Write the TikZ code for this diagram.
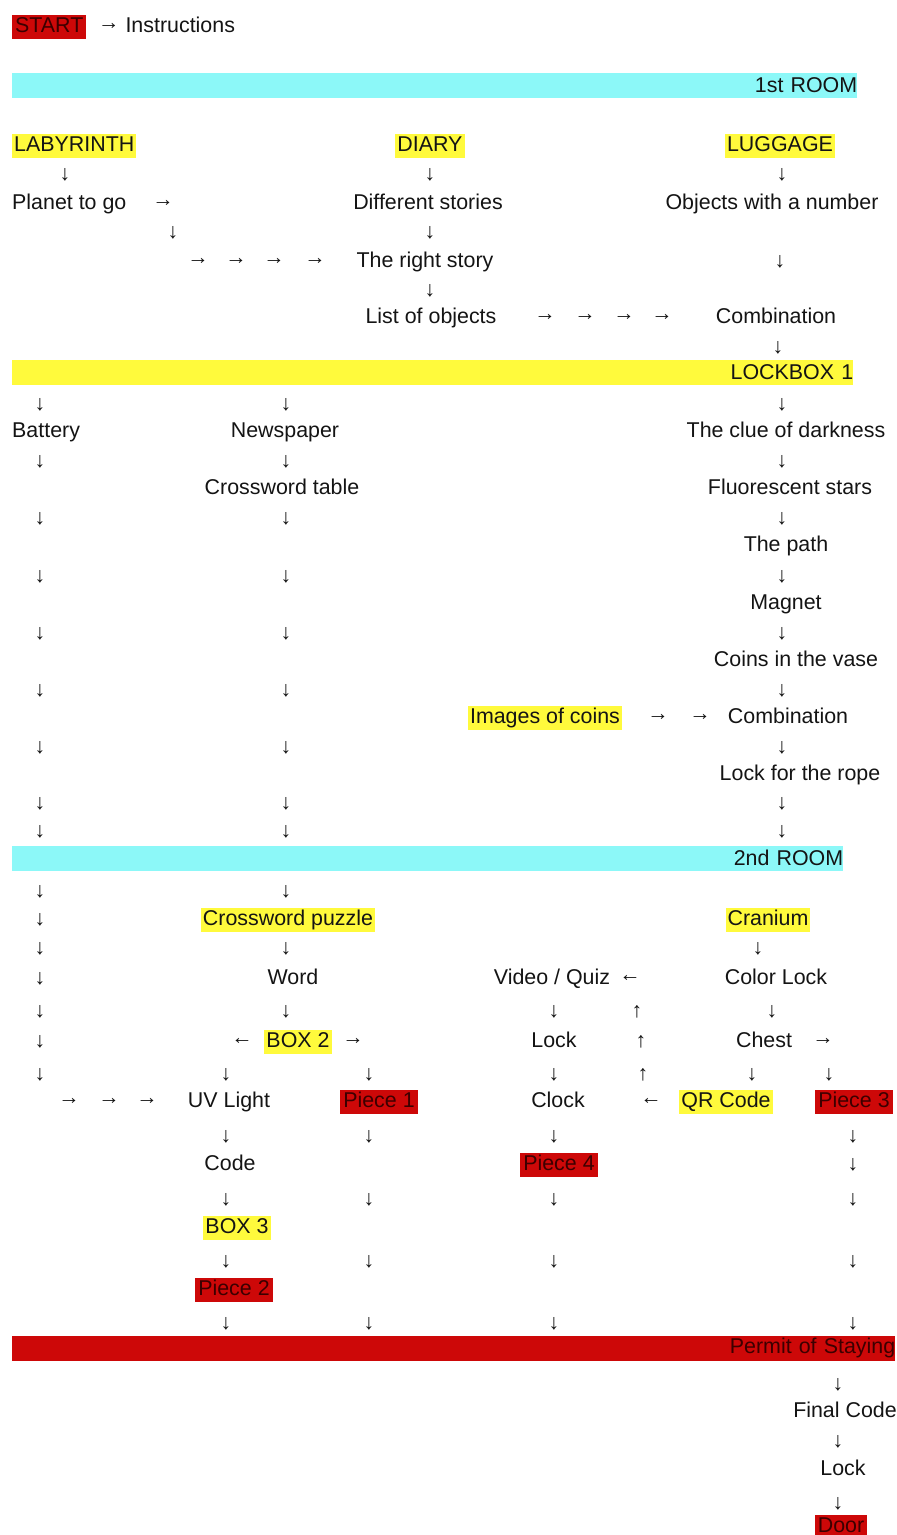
\documentclass[tikz,border=0pt]{standalone}
\usepackage{fontspec}
\setmainfont{Liberation Sans}
\definecolor{roomcyan}{RGB}{140,248,248}
\definecolor{hlyellow}{RGB}{255,250,60}
\definecolor{piecered}{RGB}{205,8,8}
\definecolor{piecetext}{RGB}{60,0,0}
\definecolor{ink}{RGB}{20,20,20}
\begin{document}
\begin{tikzpicture}[x=1pt, y=-1pt,
    font=\fontsize{21.4}{25}\selectfont,
    txt/.style={inner xsep=0pt, inner ysep=1.5pt, text height=16pt, text depth=5pt, text=ink, yshift=-2pt},
    hl/.style={txt, fill=hlyellow, inner xsep=2pt},
    piece/.style={txt, fill=piecered, inner xsep=3pt, text=piecetext},
    bar/.style={anchor=west, inner sep=0pt, minimum height=25pt, align=right, text=ink},
    arr/.style={txt, text=ink},
    harr/.style={arr, yshift=3pt}
]
    \useasboundingbox[fill=white] (0,0) rectangle (897,1535);
    \clip (0,0) rectangle (897,1535);

    % Start line
    \node[piece, anchor=west] (start) at (12,25) {START};
    \node[txt, anchor=west] (instr) at (98,25) {\raisebox{3pt}{→} Instructions};

    % 1st room
    \node[bar, fill=roomcyan, text width=845pt] (room1) at (12,85) {1st ROOM};
    \node[hl, anchor=west] (laby) at (12,144) {LABYRINTH};
    \node[hl] (diary) at (430,144) {DIARY};
    \node[hl] (lugg) at (780,144) {LUGGAGE};
    \node[arr] (laby-d) at (65,173) {↓};
    \node[arr] (diary-d) at (430,173) {↓};
    \node[arr] (lugg-d) at (782,173) {↓};
    \node[txt, anchor=west] (planet) at (12,202) {Planet to go};
    \node[harr] (planet-r) at (163,202) {→};
    \node[txt] (stories) at (428,202) {Different stories};
    \node[txt] (objnum) at (772,202) {Objects with a number};
    \node[arr] (planet-d) at (173,231) {↓};
    \node[arr] (stories-d) at (430,231) {↓};
    \foreach \x [count=\i] in {198,236,274,315}
        \node[harr] (planet-r\i) at (\x,260) {→};
    \node[txt] (rightstory) at (425,260) {The right story};
    \node[arr] (objnum-d) at (780,260) {↓};
    \node[arr] (rightstory-d) at (430,289) {↓};
    \node[txt] (list) at (431,316) {List of objects};
    \foreach \x [count=\i] in {545,585,624,662}
        \node[harr] (list-r\i) at (\x,316) {→};
    \node[txt] (comb1) at (776,316) {Combination};
    \node[arr] (comb1-d) at (778,346) {↓};

    % Lockbox 1
    \node[bar, fill=hlyellow, text width=841pt] (lockbox) at (12,372) {LOCKBOX 1};
    \foreach \y [count=\i] in {403,460,517,575,632,689,746,802,830,890,918,947,977,1010,1040,1073}
        \node[arr] (bat-d\i) at (40,\y) {↓};
    \foreach \y [count=\i] in {403,460,517,575,632,689,746,802,830,890,947,1010}
        \node[arr] (news-d\i) at (286,\y) {↓};
    \foreach \y [count=\i] in {403,460,517,575,632,689,746,802,830}
        \node[arr] (clue-d\i) at (782,\y) {↓};
    \node[txt, anchor=west] (battery) at (12,430) {Battery};
    \node[txt] (news) at (285,430) {Newspaper};
    \node[txt] (clue) at (786,430) {The clue of darkness};
    \node[txt] (crosstab) at (282,487) {Crossword table};
    \node[txt] (stars) at (790,487) {Fluorescent stars};
    \node[txt] (path) at (786,544) {The path};
    \node[txt] (magnet) at (786,602) {Magnet};
    \node[txt] (vase) at (796,659) {Coins in the vase};
    \node[hl] (images) at (545,716) {Images of coins};
    \node[harr] (images-r1) at (658,716) {→};
    \node[harr] (images-r2) at (700,716) {→};
    \node[txt] (comb2) at (788,716) {Combination};
    \node[txt] (rope) at (800,773) {Lock for the rope};

    % 2nd room
    \node[bar, fill=roomcyan, text width=831pt] (room2) at (12,858) {2nd ROOM};
    \node[hl] (puzzle) at (288,918) {Crossword puzzle};
    \node[hl] (cranium) at (768,918) {Cranium};
    \node[arr] (cranium-d) at (758,947) {↓};
    \node[txt] (word) at (293,977) {Word};
    \node[txt] (video) at (552,977) {Video / Quiz};
    \node[harr] (video-l) at (630,977) {←};
    \node[txt] (colorlock) at (776,977) {Color Lock};
    \node[arr] (video-d) at (554,1010) {↓};
    \node[arr] (qr-u3) at (637,1010) {↑};
    \node[arr] (colorlock-d) at (772,1010) {↓};
    \node[harr] (box2-l) at (242,1040) {←};
    \node[hl] (box2) at (298,1040) {BOX 2};
    \node[harr] (box2-r) at (353,1040) {→};
    \node[txt] (lock1) at (554,1040) {Lock};
    \node[arr] (qr-u2) at (641,1040) {↑};
    \node[txt] (chest) at (764,1040) {Chest};
    \node[harr] (chest-r) at (823,1040) {→};
    \node[arr] (box2-d1) at (226,1073) {↓};
    \node[arr] (box2-d2) at (369,1073) {↓};
    \node[arr] (lock1-d) at (554,1073) {↓};
    \node[arr] (qr-u1) at (643,1073) {↑};
    \node[arr] (chest-d1) at (752,1073) {↓};
    \node[arr] (chest-d2) at (829,1073) {↓};
    \foreach \x [count=\i] in {69,109,147}
        \node[harr] (bat-r\i) at (\x,1100) {→};
    \node[txt] (uv) at (229,1100) {UV Light};
    \node[piece] (p1) at (379,1100) {Piece 1};
    \node[txt] (clock) at (558,1100) {Clock};
    \node[harr] (qr-l) at (651,1100) {←};
    \node[hl] (qr) at (726,1100) {QR Code};
    \node[piece] (p3) at (854,1100) {Piece 3};
    \node[txt] (code) at (230,1163) {Code};
    \node[piece] (p4) at (559,1163) {Piece 4};
    \node[hl] (box3) at (237,1226) {BOX 3};
    \node[piece] (p2) at (234,1288) {Piece 2};
    \foreach \y [count=\i] in {1135,1198,1260,1322} {
        \node[arr] (uv-d\i) at (226,\y) {↓};
        \node[arr] (p1-d\i) at (369,\y) {↓};
        \node[arr] (clock-d\i) at (554,\y) {↓};
    }
    \foreach \y [count=\i] in {1135,1163,1198,1260,1322}
        \node[arr] (p3-d\i) at (853,\y) {↓};

    % Exit
    \node[bar, fill=piecered, text width=883pt, text=piecetext] (permit) at (12,1348) {Permit of Staying};
    \node[arr] (permit-d) at (838,1383) {↓};
    \node[txt] (final) at (845,1410) {Final Code};
    \node[arr] (final-d) at (838,1440) {↓};
    \node[txt] (lock2) at (843,1468) {Lock};
    \node[arr] (lock2-d) at (838,1502) {↓};
    \node[piece] (door) at (841,1525) {Door};
\end{tikzpicture}
\end{document}
